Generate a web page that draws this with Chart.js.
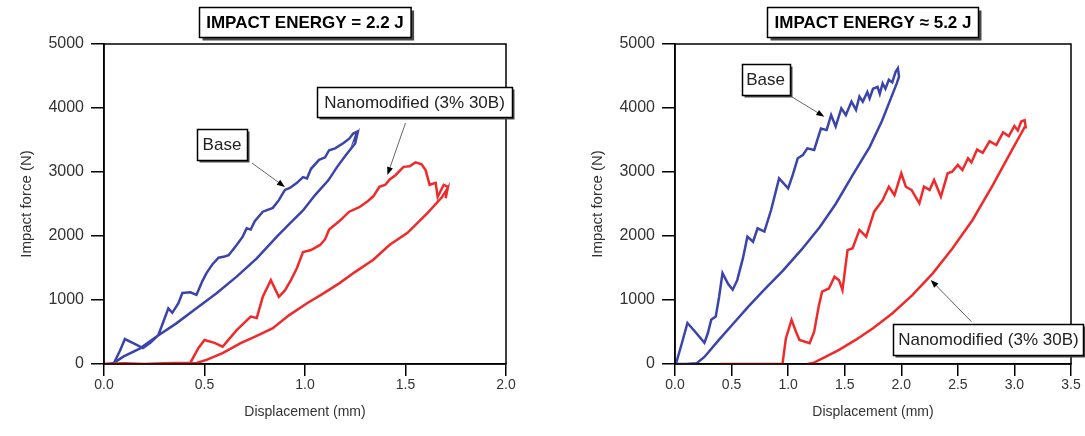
<!DOCTYPE html>
<html>
<head>
<meta charset="utf-8">
<script src="https://cdn.jsdelivr.net/npm/chart.js@4.4.1/dist/chart.umd.min.js"></script>
<style>
  html, body { margin: 0; padding: 0; background: #fff; }
  #wrap { position: relative; width: 1085px; height: 436px; overflow: hidden; }
  #left { position: absolute; left: 0; top: 0; }
  #right { position: absolute; left: 545px; top: 0; }
</style>
</head>
<body>
<div id="wrap">
  <canvas id="left" width="545" height="436"></canvas>
  <canvas id="right" width="540" height="436"></canvas>
</div>
<script>
'use strict';

// axis ticks
var forceTicks = [0, 1000, 2000, 3000, 4000, 5000];
var dispTicks22 = [0.0, 0.5, 1.0, 1.5, 2.0];
var dispTicks52 = [0.0, 0.5, 1.0, 1.5, 2.0, 2.5, 3.0, 3.5];

// impact energy = 2.2 J, base (loading then unloading)
var base22X = [0, 0.03, 0.05, 0.08, 0.104, 0.15, 0.194, 0.23, 0.27, 0.30, 0.32, 0.34, 0.37, 0.39, 0.43, 0.46, 0.49, 0.51, 0.54, 0.57,
  0.60, 0.62, 0.66, 0.69, 0.71, 0.73, 0.75, 0.79, 0.84, 0.87, 0.90, 0.925, 0.96, 0.99, 1.01, 1.03, 1.07, 1.10, 1.12, 1.15, 1.19, 1.22,
  1.24, 1.26, 1.25, 1.26,
  1.25, 1.20, 1.16, 1.116, 1.05, 0.99, 0.92, 0.86, 0.76, 0.66, 0.56, 0.46, 0.36, 0.26, 0.18, 0.096, 0.046, 0.02, 0];
var base22F = [0, 0, 20, 210, 390, 320, 250, 330, 450, 700, 870, 800, 950, 1110, 1120, 1080, 1300, 1420, 1560, 1660,
  1680, 1700, 1860, 1990, 2120, 2100, 2230, 2380, 2440, 2560, 2720, 2750, 2830, 2920, 2900, 3050, 3190, 3230, 3340, 3370, 3450, 3520,
  3600, 3630, 3540, 3590,
  3450, 3250, 3080, 2870, 2640, 2400, 2180, 1990, 1650, 1365, 1105, 870, 635, 425, 245, 115, 10, 0, 0];

// impact energy = 2.2 J, nanomodified (3% 30B)
var nano22X = [0, 0.1, 0.2, 0.3, 0.43, 0.47, 0.50, 0.55, 0.59, 0.62, 0.66, 0.70, 0.73, 0.76, 0.79, 0.83, 0.87, 0.90, 0.93, 0.96,
  0.99, 1.03, 1.075, 1.10, 1.12, 1.17, 1.22, 1.27, 1.31, 1.34, 1.37, 1.40, 1.42, 1.45, 1.49, 1.52, 1.55, 1.58, 1.60, 1.62,
  1.65, 1.66, 1.69, 1.71, 1.70, 1.71, 1.68,
  1.61, 1.51, 1.42, 1.34, 1.25, 1.17, 1.09, 1.01, 0.92, 0.84, 0.76, 0.68, 0.59, 0.51, 0.46, 0.40, 0.3, 0.2, 0.1, 0];
var nano22F = [0, 10, 0, 10, 20, 250, 375, 330, 270, 380, 530, 650, 740, 720, 1050, 1310, 1050, 1150, 1310, 1500,
  1750, 1780, 1860, 1950, 2100, 2230, 2380, 2450, 2540, 2620, 2770, 2800, 2880, 2950, 3080, 3090, 3150, 3120, 3030, 2800,
  2830, 2610, 2800, 2770, 2590, 2750, 2600,
  2360, 2050, 1860, 1630, 1440, 1260, 1100, 950, 760, 560, 440, 325, 170, 65, 15, 0, 0, 0, 0, 0];

// impact energy ~ 5.2 J, base
var base52X = [0, 0.01, 0.06, 0.11, 0.18, 0.26, 0.29, 0.32, 0.36, 0.39, 0.42, 0.47, 0.51, 0.55, 0.60, 0.64, 0.69, 0.73, 0.79, 0.85,
  0.92, 1.0, 1.04, 1.085, 1.13, 1.17, 1.23, 1.29, 1.34, 1.38, 1.42, 1.47, 1.51, 1.56, 1.60, 1.63, 1.66, 1.70, 1.72, 1.75, 1.79,
  1.81, 1.835, 1.86, 1.89, 1.92, 1.95, 1.97, 1.98,
  1.96, 1.83, 1.72, 1.57, 1.42, 1.28, 1.12, 0.95, 0.80, 0.65, 0.52, 0.39, 0.26, 0.19, 0.1, 0];
var base52F = [0, 15, 320, 640, 500, 330, 480, 690, 740, 1050, 1420, 1250, 1160, 1310, 1650, 1990, 1910, 2120, 2070, 2410,
  2900, 2745, 2950, 3215, 3265, 3370, 3345, 3680, 3655, 3890, 3710, 3995, 3890, 4100, 3970, 4180, 4100, 4250, 4150, 4300, 4330,
  4220, 4385, 4300, 4440, 4400, 4565, 4620, 4490,
  4385, 3800, 3390, 2950, 2500, 2140, 1790, 1450, 1180, 900, 640, 380, 110, 10, 0, 0];

// impact energy ~ 5.2 J, nanomodified (3% 30B)
var nano52X = [0.40, 0.6, 0.95, 0.98, 1.03, 1.07, 1.10, 1.19, 1.23, 1.27, 1.30, 1.36, 1.41, 1.45, 1.48, 1.525, 1.57, 1.63, 1.69, 1.76,
  1.835, 1.89, 1.94, 2.0, 2.04, 2.09, 2.16, 2.20, 2.25, 2.29, 2.35, 2.41, 2.45, 2.50, 2.54, 2.59, 2.62, 2.67, 2.72, 2.78,
  2.84, 2.90, 2.95, 3.00, 3.03, 3.06, 3.09, 3.10,
  3.09, 2.98, 2.81, 2.63, 2.45, 2.28, 2.10, 1.92, 1.75, 1.60, 1.45, 1.33, 1.22, 1.17];
var nano52F = [0, 0, 0, 400, 690, 500, 375, 325, 505, 900, 1130, 1180, 1365, 1310, 1155, 1780, 1810, 2095, 1990, 2380,
  2560, 2770, 2640, 2980, 2770, 2720, 2510, 2770, 2720, 2875, 2615, 2980, 3005, 3110, 3030, 3215, 3150, 3350, 3300, 3480,
  3420, 3620, 3560, 3720, 3650, 3790, 3810, 3700,
  3700, 3350, 2800, 2250, 1800, 1420, 1080, 790, 560, 380, 220, 110, 15, 0];

var BLUE = '#3a44ab';
var RED = '#f02a2a';
var FONT = "'Liberation Sans', Arial, sans-serif";

function toPoints(xs, ys) {
    return xs.map(function(x, i){ return { x: x, y: ys[i] }; });
}

function drawBox(ctx, cx, cy, w, h, shadow){
    var x = Math.round(cx - w / 2) + 0.5;
    var y = Math.round(cy - h / 2) + 0.5;
    ctx.fillStyle = '#4a4a4a';
    ctx.fillRect(x + shadow, y + shadow, w, h);
    ctx.fillStyle = '#fff';
    ctx.fillRect(x, y, w, h);
    ctx.strokeStyle = '#000';
    ctx.lineWidth = 1.5;
    ctx.strokeRect(x, y, w, h);
}

function drawArrow(ctx, x1, y1, x2, y2){
    var a = Math.atan2(y2 - y1, x2 - x1);
    var c = Math.cos(a), s = Math.sin(a);
    ctx.strokeStyle = '#666';
    ctx.lineWidth = 1;
    ctx.beginPath();
    ctx.moveTo(x1, y1);
    ctx.lineTo(x2 - 6 * c, y2 - 6 * s);
    ctx.stroke();
    ctx.fillStyle = '#000';
    ctx.beginPath();
    ctx.moveTo(x2, y2);
    ctx.lineTo(x2 - 8 * c + 3 * s, y2 - 8 * s - 3 * c);
    ctx.lineTo(x2 - 8 * c - 3 * s, y2 - 8 * s + 3 * c);
    ctx.closePath();
    ctx.fill();
}

// frame, boxed title and the labelled arrows
var notesPlugin = {
    id: 'notes',
    afterDraw: function(chart, args, opts){
        var ctx = chart.ctx;
        var area = chart.chartArea;
        var xs = chart.scales.x, ys = chart.scales.y;
        ctx.save();
        ctx.strokeStyle = '#000';
        ctx.lineWidth = 1.5;
        ctx.strokeRect(area.left, area.top, area.right - area.left, area.bottom - area.top);

        // title box
        ctx.font = 'bold 17px ' + FONT;
        var tw = ctx.measureText(opts.title).width;
        var cx = (area.left + area.right) / 2;
        drawBox(ctx, cx, 22, tw + 14, 30, 3);
        ctx.fillStyle = '#000';
        ctx.textAlign = 'center';
        ctx.textBaseline = 'middle';
        ctx.fillText(opts.title, cx, 23);

        // labels with arrows
        opts.labels.forEach(function(l){
            drawArrow(ctx, xs.getPixelForValue(l.from[0]), ys.getPixelForValue(l.from[1]),
                      xs.getPixelForValue(l.to[0]), ys.getPixelForValue(l.to[1]));
            var bx = xs.getPixelForValue(l.x), by = ys.getPixelForValue(l.y);
            drawBox(ctx, bx, by, l.w, l.h, 2);
            ctx.font = '17px ' + FONT;
            ctx.fillStyle = '#222';
            ctx.textAlign = 'center';
            ctx.textBaseline = 'middle';
            ctx.fillText(l.text, bx, by + 1);
        });
        ctx.restore();
    }
};

function makeChart(id, base, nano, xTicks, pad, yWidth, notes){
    return new Chart(document.getElementById(id), {
        type: 'scatter',
        data: {
            datasets: [
                { data: nano, borderColor: RED, borderWidth: 2.5, showLine: true, pointRadius: 0, tension: 0 },
                { data: base, borderColor: BLUE, borderWidth: 2.5, showLine: true, pointRadius: 0, tension: 0 }
            ]
        },
        options: {
            responsive: false,
            animation: false,
            devicePixelRatio: 1,
            layout: { padding: pad },
            plugins: {
                legend: { display: false },
                tooltip: { enabled: false },
                notes: notes
            },
            scales: {
                x: {
                    type: 'linear',
                    min: xTicks[0],
                    max: xTicks[xTicks.length - 1],
                    afterFit: function(scale){ scale.height = 72; },
                    afterBuildTicks: function(scale){ scale.ticks = xTicks.map(function(v){ return { value: v }; }); },
                    ticks: {
                        color: '#333',
                        padding: 1,
                        font: { family: FONT, size: 14 },
                        callback: function(v){ return v.toFixed(1); }
                    },
                    grid: { drawOnChartArea: false, tickLength: 12, tickColor: '#000', lineWidth: 1.5 },
                    border: { color: '#000', width: 1.5 },
                    title: { display: true, text: 'Displacement (mm)', color: '#333',
                             font: { family: FONT, size: 14 }, padding: { top: 15, bottom: 15 } }
                },
                y: {
                    min: 0,
                    max: 5000,
                    afterFit: function(scale){ scale.width = yWidth; },
                    afterBuildTicks: function(scale){ scale.ticks = forceTicks.map(function(v){ return { value: v }; }); },
                    ticks: {
                        color: '#333',
                        padding: 7,
                        font: { family: FONT, size: 16 },
                        callback: function(v){ return String(v); }
                    },
                    grid: { drawOnChartArea: false, tickLength: 13, tickColor: '#000', lineWidth: 1.5 },
                    border: { color: '#000', width: 1.5 },
                    title: { display: true, text: 'Impact force (N)', color: '#333',
                             font: { family: FONT, size: 15 }, padding: { top: 8, bottom: 8 } }
                }
            }
        },
        plugins: [notesPlugin]
    });
}

var chart22 = makeChart('left', toPoints(base22X, base22F), toPoints(nano22X, nano22F), dispTicks22,
    { left: 10, right: 39, top: 44, bottom: 0 }, 94, {
        title: 'IMPACT ENERGY = 2.2 J',
        labels: [
            { text: 'Base', x: 0.587, y: 3437, w: 50, h: 31, from: [0.736, 3140], to: [0.90, 2766] },
            { text: 'Nanomodified (3% 30B)', x: 1.545, y: 4094, w: 195, h: 30, from: [1.50, 3766], to: [1.41, 2953] }
        ]
    });

var chart52 = makeChart('right', toPoints(base52X, base52F), toPoints(nano52X, nano52F), dispTicks52,
    { left: 36, right: 14, top: 44, bottom: 0 }, 94, {
        title: 'IMPACT ENERGY \u2248 5.2 J',
        labels: [
            { text: 'Base', x: 0.80, y: 4445, w: 48, h: 31, from: [1.03, 4177], to: [1.32, 3864] },
            { text: 'Nanomodified (3% 30B)', x: 2.77, y: 383, w: 190, h: 31, from: [2.62, 661], to: [2.26, 1313] }
        ]
    });
</script>
</body>
</html>
